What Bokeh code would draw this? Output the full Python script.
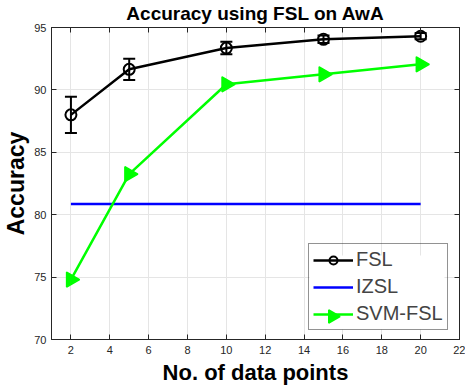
import numpy as np
from bokeh.plotting import figure
from bokeh.models import (ColumnDataSource, Whisker, TeeHead, LinearAxis, Legend,
                          LegendItem, FixedTicker, Range1d, CustomLabelingPolicy)
from bokeh.embed import file_html
from bokeh.resources import INLINE

# ---- data ----
x_points = [2, 5, 10, 15, 20]
fsl = [88.0, 91.65, 93.35, 94.05, 94.3]
fsl_err = [1.45, 0.85, 0.5, 0.3, 0.25]
izsl = [80.85, 80.85, 80.85, 80.85, 80.85]
svm_fsl = [74.8, 83.25, 90.45, 91.25, 92.05]
x_ticks = [2, 4, 6, 8, 10, 12, 14, 16, 18, 20, 22]
y_ticks = [70, 75, 80, 85, 90, 95]

FONT = "Liberation Sans"
AXC = "#262626"
FW, FH = 408, 312
X0, X1, Y0, Y1 = 1, 22, 70, 95

p = figure(output_backend="svg", toolbar_location=None,
           frame_width=FW, frame_height=FH,
           x_range=Range1d(X0, X1), y_range=Range1d(Y0, Y1),
           min_border_left=44, min_border_right=6, min_border_top=22,
           min_border_bottom=48, background_fill_color="white",
           border_fill_color="white")

p.title.text = "Accuracy using FSL on AwA"
p.title.align = "center"
p.title.text_font = FONT
p.title.text_font_size = "19px"
p.title.text_font_style = "bold"
p.title.text_color = "black"
p.title.standoff = 0
p.title.offset = 0

for ax in (p.xaxis[0], p.yaxis[0]):
    ax.major_tick_in = 5
    ax.major_tick_out = 0
    ax.minor_tick_in = 0
    ax.minor_tick_out = 0
    ax.axis_line_color = AXC
    ax.major_tick_line_color = AXC
    ax.major_label_text_font = FONT
    ax.major_label_text_font_size = "11px"
    ax.major_label_text_color = AXC
    ax.axis_label_text_font = FONT
    ax.axis_label_text_font_style = "bold"
    ax.axis_label_text_color = "black"

p.xaxis[0].axis_label_text_font_size = "22px"
p.yaxis[0].axis_label_text_font_size = "23px"
p.xaxis[0].ticker = FixedTicker(ticks=x_ticks)
p.yaxis[0].ticker = FixedTicker(ticks=y_ticks)
p.xaxis[0].axis_label = "No. of data points"
p.yaxis[0].axis_label = "Accuracy"
p.xaxis[0].major_label_standoff = 6
p.xaxis[0].axis_label_standoff = 3
p.yaxis[0].major_label_standoff = 5
p.yaxis[0].axis_label_standoff = 2

hide_all = CustomLabelingPolicy(code="""
const r = [...indices]
for (const i of r) indices.unset(i)
return indices
""")

# box axes (top/right) with inward ticks, no labels
for loc, tick in (("above", x_ticks), ("right", y_ticks)):
    a = LinearAxis(ticker=FixedTicker(ticks=tick), major_tick_in=5, major_tick_out=0,
                   minor_tick_in=0, minor_tick_out=0, major_label_text_font_size="2px",
                   major_label_policy=hide_all,
                   major_label_standoff=0, axis_line_color=AXC, major_tick_line_color=AXC)
    p.add_layout(a, loc)

p.xgrid.ticker = FixedTicker(ticks=x_ticks)
p.ygrid.ticker = FixedTicker(ticks=y_ticks)
p.grid.grid_line_color = "#e5e5e5"
p.grid.grid_line_width = 1
p.outline_line_color = AXC

LEG_X, LEG_Y, PAD, GW, GH, SP = 257, 9, 4, 40, 20, 4
LEG_W = 136
LEG_H = 2 * PAD + 3 * GH + 2 * SP

def fx(px):  # frame pixel -> data x
    return X0 + px * (X1 - X0) / FW

def fy(py):  # frame pixel -> data y
    return Y0 + py * (Y1 - Y0) / FH

# white backing for the legend (drawn above the grid, below the legend text)
p.quad(left=[fx(LEG_X + 1)], right=[fx(LEG_X + LEG_W)], bottom=[fy(LEG_Y + 1)],
       top=[fy(LEG_Y + LEG_H - 1)], fill_color="white", line_color=None)

src = ColumnDataSource(dict(
    x=x_points, fsl=fsl, izsl=izsl, svm=svm_fsl,
    lo=[v - e for v, e in zip(fsl, fsl_err)],
    hi=[v + e for v, e in zip(fsl, fsl_err)],
))

r_iz = p.line("x", "izsl", source=src, line_color="#0000ff", line_width=2.5)

r_svm_l = p.line("x", "svm", source=src, line_color="#00ff00", line_width=2.5)
r_svm_m = p.scatter("x", "svm", source=src, marker="triangle", size=15,
                    angle=-np.pi / 2, fill_color="#00ff00", line_color="#00ff00",
                    line_width=1.5)

w = Whisker(source=src, base="x", lower="lo", upper="hi", line_color="black",
            line_width=2,
            upper_head=TeeHead(size=12, line_color="black", line_width=2),
            lower_head=TeeHead(size=12, line_color="black", line_width=2))
p.add_layout(w)
r_fsl_l = p.line("x", "fsl", source=src, line_color="black", line_width=2.5)
r_fsl_m = p.scatter("x", "fsl", source=src, marker="circle", size=11,
                    fill_color=None, line_color="black", line_width=2)

legend = Legend(items=[
    LegendItem(label="FSL", renderers=[r_fsl_l, r_fsl_m]),
    LegendItem(label="IZSL", renderers=[r_iz]),
    LegendItem(label="SVM-FSL", renderers=[r_svm_l]),
], location=(LEG_X, LEG_Y))
legend.label_text_font = FONT
legend.label_text_font_size = "20px"
legend.glyph_width = GW
legend.glyph_height = GH
legend.spacing = SP
legend.padding = PAD
legend.margin = 0
legend.label_standoff = 3
legend.label_height = GH
legend.border_line_color = AXC
legend.border_line_width = 1
legend.background_fill_alpha = 0
p.add_layout(legend)

# right-pointing triangle marker for the SVM-FSL legend entry
p.scatter([fx(LEG_X + PAD + GW / 2)], [fy(LEG_Y + PAD + GH / 2)], marker="triangle",
          size=13, angle=-np.pi / 2, fill_color="#00ff00", line_color="#00ff00",
          line_width=1.5)

open("out.html", "w").write(file_html(p, INLINE))
